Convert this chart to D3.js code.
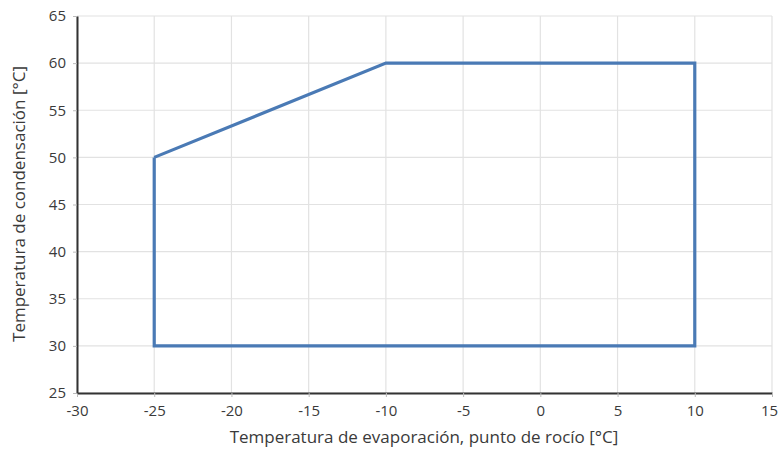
<!DOCTYPE html>
<html><head><meta charset="utf-8">
<script src="https://cdn.jsdelivr.net/npm/d3@7"></script>
<style>body{margin:0;background:#fff}svg{display:block}</style>
</head><body>
<svg id="c" width="778" height="450"></svg>
<script>
const evapTemps = [-25, -10, 10, 10, -25, -25];
const condTemps = [50, 60, 60, 30, 30, 50];
const xTicks = [-30, -25, -20, -15, -10, -5, 0, 5, 10, 15];
const yTicks = [25, 30, 35, 40, 45, 50, 55, 60, 65];
const xTitle = "Temperatura de evaporación, punto de rocío [°C]";
const yTitle = "Temperatura de condensación [°C]";

const svg = d3.select("#c");
const m = {l: 77, r: 6, t: 16, b: 57};
const W = 778, H = 450;
const x = d3.scaleLinear().domain([-30, 15]).range([m.l, W - m.r]);
const y = d3.scaleLinear().domain([25, 65]).range([H - m.b, m.t]);
const font = "'Open Sans', sans-serif";

// grid
svg.append("g").selectAll("line").data(xTicks).join("line")
  .attr("x1", d => x(d)).attr("x2", d => x(d)).attr("y1", y(25)).attr("y2", y(65))
  .attr("stroke", "#e2e2e2").attr("stroke-width", 1.2);
svg.append("g").selectAll("line").data(yTicks).join("line")
  .attr("y1", d => y(d)).attr("y2", d => y(d)).attr("x1", x(-30)).attr("x2", x(15))
  .attr("stroke", "#e2e2e2").attr("stroke-width", 1.2);

// axes
const fmt = d => String(d);
const xAxis = svg.append("g").attr("transform", `translate(0,${y(25)})`)
  .call(d3.axisBottom(x).tickValues(xTicks).tickFormat(fmt).tickSize(4).tickPadding(8).tickSizeOuter(0));
const yAxis = svg.append("g").attr("transform", `translate(${x(-30)},0)`)
  .call(d3.axisLeft(y).tickValues(yTicks).tickFormat(fmt).tickSize(4).tickPadding(7).tickSizeOuter(0));
[xAxis, yAxis].forEach(a => {
  a.select(".domain").attr("stroke", "#333").attr("stroke-width", 2);
  a.selectAll(".tick line").attr("stroke", "#bbb");
  a.selectAll("text").attr("font-family", font).attr("font-size", 15).attr("fill", "#3a3a3a");
});
xAxis.selectAll(".tick text").filter(d => d === 15).attr("dx", -3);

// data line
svg.append("path")
  .datum(evapTemps.map((v, i) => [v, condTemps[i]]))
  .attr("fill", "none").attr("stroke", "#4a7ab5").attr("stroke-width", 3.2)
  .attr("stroke-linejoin", "miter")
  .attr("d", d3.line().x(d => x(d[0])).y(d => y(d[1])));

// titles
svg.append("text").attr("x", 424).attr("y", 443).attr("text-anchor", "middle")
  .attr("font-family", font).attr("font-size", 17).attr("fill", "#3a3a3a").text(xTitle);
svg.append("text").attr("transform", "translate(25,204) rotate(-90)").attr("text-anchor", "middle")
  .attr("font-family", font).attr("font-size", 17).attr("fill", "#3a3a3a").text(yTitle);
</script>
</body></html>
